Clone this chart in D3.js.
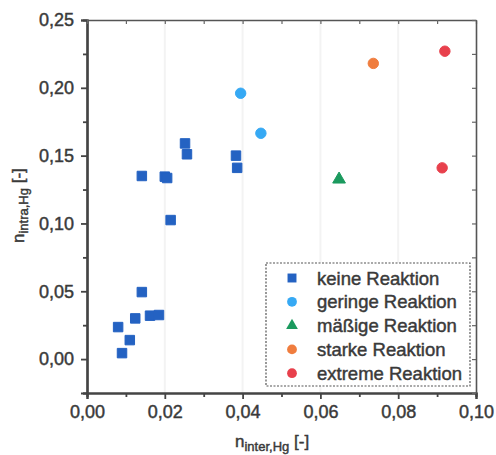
<!DOCTYPE html>
<html><head><meta charset="utf-8">
<script src="https://cdn.jsdelivr.net/npm/d3@7"></script>
<style>body{margin:0;background:#fff}svg{display:block}text{font-family:"Liberation Sans",Arial,sans-serif;fill:#3a3a3a;stroke:#3a3a3a;stroke-width:0.45px}</style>
</head><body>
<script>
const seriesNames = ["keine Reaktion","geringe Reaktion","mäßige Reaktion","starke Reaktion","extreme Reaktion"];
const seriesColors = ["#2462c2","#36a9f4","#1b9a5e","#f07d3e","#e8404c"];
const seriesShapes = ["square","circle","triangle","circle","circle"];
const keineX = [0.0141,0.0200,0.0206,0.0252,0.0257,0.0383,0.0386,0.0215,0.0141,0.0124,0.0162,0.0185,0.0080,0.0110,0.0090];
const keineY = [0.135,0.1345,0.1335,0.159,0.151,0.150,0.141,0.1025,0.0494,0.030,0.032,0.0325,0.0236,0.014,0.0044];
const geringeX = [0.0395,0.0447];
const geringeY = [0.196,0.1665];
const maessigX = [0.0648];
const maessigY = [0.1325];
const starkeX = [0.0736];
const starkeY = [0.218];
const extremeX = [0.0920,0.0913];
const extremeY = [0.227,0.141];
const xTicks = [0,0.02,0.04,0.06,0.08,0.10];
const yTicks = [0,0.05,0.10,0.15,0.20,0.25];
const xMinor = [0.01,0.03,0.05,0.07,0.09];
const yMinor = [-0.025,0.025,0.075,0.125,0.175,0.225];

const seriesX = [keineX,geringeX,maessigX,starkeX,extremeX];
const seriesY = [keineY,geringeY,maessigY,starkeY,extremeY];

const W=496,H=455, L=87, T=20, R=476, B=393;
const svg=d3.select("body").append("svg").attr("width",W).attr("height",H);
const x=d3.scaleLinear().domain([0,0.10]).range([L,R]);
const y=d3.scaleLinear().domain([-0.025,0.25]).range([B,T]);
const fmt=d=>d3.format(".2f")(d).replace(".",",");

// faint gridlines
svg.append("g").selectAll("line").data(xTicks.slice(1,-1)).join("line")
  .attr("x1",d=>x(d)).attr("x2",d=>x(d)).attr("y1",T).attr("y2",B)
  .attr("stroke","#f3f3f3").attr("stroke-width",2);

// axes
const ax=svg.append("g");
const gx=ax.append("g").attr("transform",`translate(0,${B})`)
  .call(d3.axisBottom(x).tickValues(xTicks).tickFormat(fmt).tickSize(6).tickPadding(6));
const gxm=ax.append("g").attr("transform",`translate(0,${B})`)
  .call(d3.axisBottom(x).tickValues(xMinor).tickFormat("").tickSize(4));
const gy=ax.append("g").attr("transform",`translate(${L},0)`)
  .call(d3.axisLeft(y).tickValues(yTicks).tickFormat(fmt).tickSize(6).tickPadding(7));
const gym=ax.append("g").attr("transform",`translate(${L},0)`)
  .call(d3.axisLeft(y).tickValues(yMinor).tickFormat("").tickSize(4));
const gt=ax.append("g").attr("transform",`translate(0,${T})`)
  .call(d3.axisBottom(x).tickValues(xTicks.concat(xMinor)).tickFormat("").tickSize(4).tickSizeOuter(0));
const gr=ax.append("g").attr("transform",`translate(${R},0)`)
  .call(d3.axisLeft(y).tickValues(yTicks.concat(yMinor)).tickFormat("").tickSize(4).tickSizeOuter(0));
[gx,gxm,gy,gym].forEach(g=>{g.select(".domain").attr("stroke","#444").attr("stroke-width",2.2);
  g.selectAll(".tick line").attr("stroke","#444").attr("stroke-width",1.8);});
[gt,gr].forEach(g=>{g.select(".domain").attr("stroke","#555").attr("stroke-width",1.6);
  g.selectAll(".tick line").attr("stroke","#666").attr("stroke-width",1.2);});
ax.selectAll(".tick text").attr("font-size",18).attr("fill","#3a3a3a")
  .attr("font-family","'Liberation Sans',Arial,sans-serif");

// symbols
const symType={square:d3.symbolSquare,circle:d3.symbolCircle,triangle:d3.symbolTriangle};
const symSize={square:90,circle:85,triangle:70};
const pts=svg.append("g");
seriesNames.forEach((n,i)=>{
  const data=seriesX[i].map((v,j)=>[v,seriesY[i][j]]);
  pts.selectAll(null).data(data).join("path")
    .attr("transform",d=>`translate(${x(d[0])},${y(d[1])})`)
    .attr("d",d3.symbol(symType[seriesShapes[i]],symSize[seriesShapes[i]]))
    .attr("fill",seriesColors[i])
    .attr("stroke",seriesColors[i]).attr("stroke-width",1).attr("stroke-linejoin","round");
});

// legend
const lg=svg.append("g");
lg.append("rect").attr("x",266).attr("y",263).attr("width",204).attr("height",123)
  .attr("fill","#fff").attr("stroke","#555").attr("stroke-width",1.2).attr("stroke-dasharray","2,1.5");
seriesNames.forEach((n,i)=>{
  const cy=278+i*23.8;
  lg.append("path").attr("transform",`translate(292,${cy})`)
    .attr("d",d3.symbol(symType[seriesShapes[i]],symSize[seriesShapes[i]]-10))
    .attr("fill",seriesColors[i]);
  lg.append("text").attr("x",317).attr("y",cy+6.5).attr("font-size",18.5).text(n);
});

// axis titles
const xt=svg.append("text").attr("x",235).attr("y",447).attr("font-size",17);
xt.append("tspan").text("n");
xt.append("tspan").attr("font-size",13).attr("dy",4).text("inter,Hg");
xt.append("tspan").attr("dy",-4).text(" [-]");
const yt=svg.append("text").attr("transform","translate(24,243) rotate(-90)").attr("font-size",17);
yt.append("tspan").text("n");
yt.append("tspan").attr("font-size",13).attr("dy",4).text("intra,Hg");
yt.append("tspan").attr("dy",-4).text(" [-]");
</script>
</body></html>
